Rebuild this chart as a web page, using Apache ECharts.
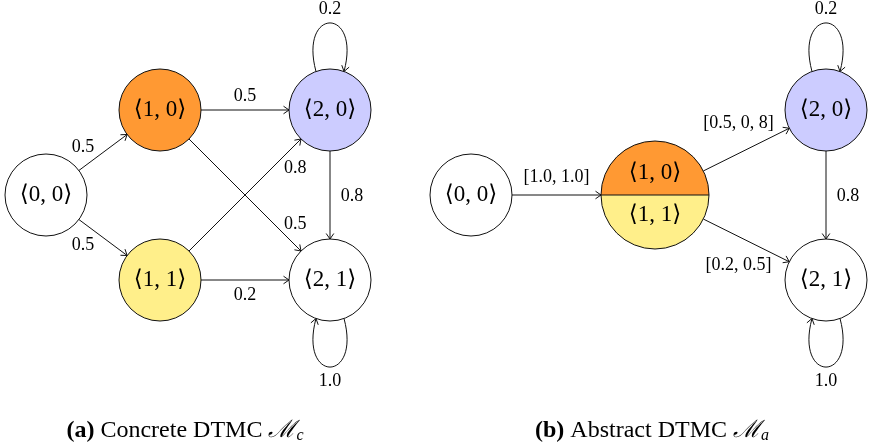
<!DOCTYPE html>
<html><head><meta charset="utf-8">
<script src="https://cdn.jsdelivr.net/npm/echarts@6/dist/echarts.min.js"></script>
<style>html,body{margin:0;padding:0;background:#fff}#c{width:871px;height:445px}</style>
</head><body><div id="c"></div>
<script>
// ---- data ----
const nodeIds    = ['c00','c10','c11','c20','c21','a00','a1','a20','a21'];
const nodeLabels = [['⟨0, 0⟩'],['⟨1, 0⟩'],['⟨1, 1⟩'],['⟨2, 0⟩'],['⟨2, 1⟩'],['⟨0, 0⟩'],['⟨1, 0⟩','⟨1, 1⟩'],['⟨2, 0⟩'],['⟨2, 1⟩']];
const nodeX      = [46,160,160,330,330,471,655,826,826];
const nodeY      = [195,110,280,110,280,195,195,110,280];
const edgeFrom   = ['c00','c00','c10','c11','c10','c20','c11','a00','a1','a1','a20'];
const edgeTo     = ['c10','c11','c20','c20','c21','c21','c21','a1','a20','a21','a21'];
const edgeLabels = ['0.5','0.5','0.5','0.8','0.5','0.8','0.2','[1.0, 1.0]','[0.5, 0, 8]','[0.2, 0.5]','0.8'];
const loopNodes  = ['c20','c21','a20','a21'];
const loopLabels = ['0.2','1.0','0.2','1.0'];
const captionTags  = ['(a)','(b)'];
const captionTexts = ['Concrete DTMC','Abstract DTMC'];
const captionSubs  = ['c','a'];

// ---- styles ----
const ORANGE = '#FF9933', YELLOW = '#FFEF8A', BLUE = '#CCCCFF';
const nodeFill = { c10:[ORANGE], c11:[YELLOW], c20:[BLUE], a1:[ORANGE, YELLOW], a20:[BLUE] };
const R = 41, R_SPLIT = 54;
const edgeLabelPlace = [
  {t:.5,dx:-20,dy:-5.5},{t:.5,dx:-20,dy:7.5},{t:.5,dx:0,dy:-14},{t:.85,dx:11,dy:12},
  {t:.85,dx:11,dy:-10},{t:.5,dx:22,dy:1},{t:.5,dx:0,dy:15},{t:.5,dx:0,dy:-18},
  {t:.85,dx:-38,dy:-11.5},{t:.85,dx:-38,dy:9.5},{t:.5,dx:22,dy:1}];
const loopSide = ['up','down','up','down'];
const SERIF = '"Liberation Serif", "DejaVu Serif", serif';
const NODE_FONT = '23px ' + SERIF;
const EDGE_FONT = '18px ' + SERIF;
const INK = '#111';

function idx(id){ return nodeIds.indexOf(id); }
function radius(i){ return nodeLabels[i].length > 1 ? R_SPLIT : R; }
function center(api, i){ return api.coord([nodeX[i], nodeY[i]]); }
function arrowHead(tip, ux, uy){
  const L = 5.5, W = 3.8, nx = -uy, ny = ux;
  return [[tip[0]-L*ux+W*nx, tip[1]-L*uy+W*ny], tip, [tip[0]-L*ux-W*nx, tip[1]-L*uy-W*ny]];
}

const edgeSeries = {
  type:'custom', coordinateSystem:'cartesian2d', silent:true, z:2,
  data: edgeFrom.map((f,i)=>[nodeX[idx(f)], nodeY[idx(f)]]),
  renderItem(params, api){
    const i = params.dataIndex, a = idx(edgeFrom[i]), b = idx(edgeTo[i]);
    const A = center(api,a), B = center(api,b);
    const dx = B[0]-A[0], dy = B[1]-A[1], len = Math.hypot(dx,dy), ux = dx/len, uy = dy/len;
    const P = [A[0]+ux*radius(a), A[1]+uy*radius(a)], Q = [B[0]-ux*radius(b), B[1]-uy*radius(b)];
    const pl = edgeLabelPlace[i];
    const lx = P[0]+(Q[0]-P[0])*pl.t+pl.dx, ly = P[1]+(Q[1]-P[1])*pl.t+pl.dy;
    return {type:'group', children:[
      {type:'line', shape:{x1:P[0],y1:P[1],x2:Q[0],y2:Q[1]}, style:{stroke:INK,lineWidth:1}},
      {type:'polyline', shape:{points:arrowHead(Q,ux,uy)}, style:{stroke:INK,fill:null,lineWidth:1}},
      {type:'text', style:{text:edgeLabels[i], x:lx, y:ly, align:'center', verticalAlign:'middle', font:EDGE_FONT, fill:'#000'}}
    ]};
  }
};

const loopSeries = {
  type:'custom', coordinateSystem:'cartesian2d', silent:true, z:2,
  data: loopNodes.map(n=>[nodeX[idx(n)], nodeY[idx(n)]]),
  renderItem(params, api){
    const i = params.dataIndex, n = idx(loopNodes[i]), C = center(api,n), r = radius(n);
    const up = loopSide[i] === 'up', s = up ? 1 : -1;
    const deg = Math.PI/180;
    const pos = (ang)=>[C[0]+s*r*Math.cos(ang*deg), C[1]-s*r*Math.sin(ang*deg)];
    const P0 = pos(110), P3 = pos(70), d = 67;
    const P1 = [P0[0]+s*d*Math.cos(105*deg), P0[1]-s*d*Math.sin(105*deg)];
    const P2 = [P3[0]+s*d*Math.cos(75*deg),  P3[1]-s*d*Math.sin(75*deg)];
    const ex = P3[0]-P2[0], ey = P3[1]-P2[1], el = Math.hypot(ex,ey);
    const apexY = (P0[1]+3*P1[1]+3*P2[1]+P3[1])/8;
    return {type:'group', children:[
      {type:'bezierCurve', shape:{x1:P0[0],y1:P0[1],cpx1:P1[0],cpy1:P1[1],cpx2:P2[0],cpy2:P2[1],x2:P3[0],y2:P3[1]}, style:{stroke:INK,fill:null,lineWidth:1}},
      {type:'polyline', shape:{points:arrowHead(P3,ex/el,ey/el)}, style:{stroke:INK,fill:null,lineWidth:1}},
      {type:'text', style:{text:loopLabels[i], x:C[0], y:apexY - s*14, align:'center', verticalAlign:'middle', font:EDGE_FONT, fill:'#000'}}
    ]};
  }
};

const nodeSeries = {
  type:'custom', coordinateSystem:'cartesian2d', silent:true, z:3,
  data: nodeIds.map((n,i)=>[nodeX[i], nodeY[i]]),
  renderItem(params, api){
    const i = params.dataIndex, C = api.coord([api.value(0), api.value(1)]), r = radius(i);
    const fills = nodeFill[nodeIds[i]] || ['#FFFFFF'];
    const labels = nodeLabels[i];
    const children = [];
    if (labels.length > 1) {
      children.push({type:'circle', shape:{cx:C[0],cy:C[1],r:r}, style:{
        fill:new echarts.graphic.LinearGradient(0,0,0,1,[{offset:0,color:fills[0]},{offset:0.5,color:fills[0]},{offset:0.5,color:fills[1]},{offset:1,color:fills[1]}]),
        stroke:INK, lineWidth:1}});
      children.push({type:'line', shape:{x1:C[0]-r,y1:C[1],x2:C[0]+r,y2:C[1]}, style:{stroke:INK,lineWidth:1.2}});
      children.push({type:'text', style:{text:labels[0], x:C[0], y:C[1]-22, align:'center', verticalAlign:'middle', font:NODE_FONT, fill:'#000'}});
      children.push({type:'text', style:{text:labels[1], x:C[0], y:C[1]+20, align:'center', verticalAlign:'middle', font:NODE_FONT, fill:'#000'}});
    } else {
      children.push({type:'circle', shape:{cx:C[0],cy:C[1],r:r}, style:{fill:fills[0], stroke:INK, lineWidth:1}});
      children.push({type:'text', style:{text:labels[0], x:C[0], y:C[1], align:'center', verticalAlign:'middle', font:NODE_FONT, fill:'#000'}});
    }
    return {type:'group', children};
  }
};

const captionCenters = [180, 647];
const chart = echarts.init(document.getElementById('c'), null, {renderer:'canvas'});
chart.setOption({
  backgroundColor:'#fff',
  animation:false,
  title: captionTags.map((tag,i)=>({
    left: captionCenters[i], top: 412, textAlign:'center',
    text: '{b|' + tag + '} ' + captionTexts[i] + ' {m|ℳ}{s|' + captionSubs[i] + '}',
    textStyle:{ fontFamily:SERIF, fontSize:24, fontWeight:'normal', color:'#000',
      rich:{ b:{fontFamily:SERIF, fontSize:24, fontWeight:'bold'},
             m:{fontFamily:'"DejaVu Serif", serif', fontSize:24, fontStyle:'italic'},
             s:{fontFamily:SERIF, fontSize:16, fontStyle:'italic', padding:[11,0,0,0]} } }
  })),
  grid:{left:0,right:0,top:0,bottom:0},
  xAxis:{type:'value', min:0, max:871, show:false},
  yAxis:{type:'value', min:0, max:445, inverse:true, show:false},
  series:[edgeSeries, loopSeries, nodeSeries]
});
</script></body></html>
